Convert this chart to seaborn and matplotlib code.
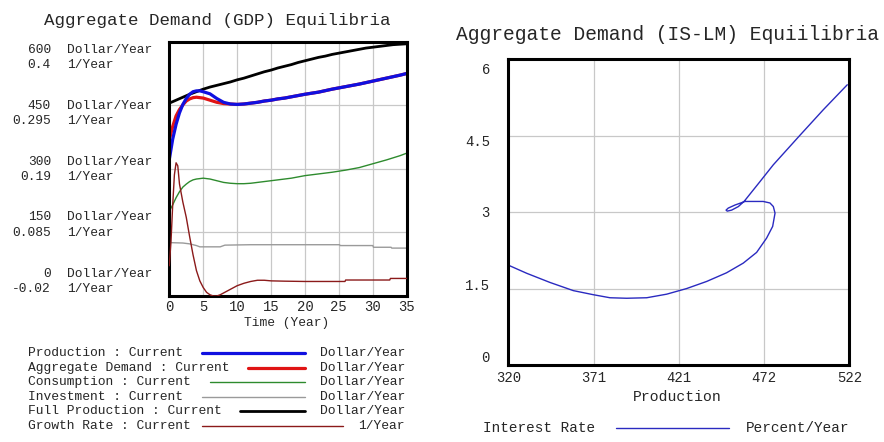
import matplotlib
matplotlib.use("Agg")
import matplotlib.pyplot as plt
from matplotlib.lines import Line2D
import seaborn as sns

# ---- GDP equilibria (time series, Dollar/Year and 1/Year) ----
time_main = [0, 0.5, 1, 1.5, 2, 2.5, 3, 3.5, 4, 4.5, 5, 6, 7, 8, 9, 10,
             11, 12, 13, 14, 15, 16, 17, 18, 19, 20, 22, 24, 26, 28, 30, 32, 34, 35]
production = [322, 370, 405, 432, 452, 466, 476, 482, 484, 484, 482, 477, 466, 457, 453, 452,
              453, 455, 457, 460, 462, 465, 467, 470, 473, 476, 481, 488, 494, 500, 507, 514, 521, 525]
aggregate_demand = [368, 400, 425, 440, 451, 460, 465, 468, 469, 468, 467, 462, 457, 454, 453, 452,
                    453, 455, 457, 460, 462, 465, 467, 470, 473, 476, 481, 488, 494, 500, 507, 514, 521, 525]
consumption = [200, 215, 232, 246, 257, 264, 270, 274, 276, 277, 278, 276, 272, 268, 266, 265,
               265, 266, 268, 270, 272, 274, 276, 278, 281, 284, 288, 292, 297, 303, 312, 321, 331, 337]

time_investment = [0, 2, 3, 4, 4.5, 7.5, 8.2, 12, 17.8, 25.1, 25.2, 30.0, 30.1, 32.7, 32.8, 35]
investment = [126, 125, 123, 119, 116, 116, 120, 121, 121, 121, 119, 119, 115, 115, 113, 113]

time_full = list(range(36))
full_production = [455, 462, 469, 476, 482, 488, 493, 497, 501, 505, 510, 514, 519, 524, 529, 533,
                   538, 542, 546, 551, 555, 559, 563, 566, 570, 573, 576, 579, 582, 585, 587, 589,
                   591, 593, 594, 595]

time_growth = [0, 0.25, 0.5, 0.75, 1.0, 1.25, 1.5, 2, 2.5, 3, 3.5, 4, 4.5, 5, 5.5, 6, 6.5, 7,
               7.5, 8, 9, 10, 11, 12, 13, 14, 15, 17, 20, 25.9, 26, 32.5, 32.6, 35]
growth_rate = [0.03, 0.07, 0.13, 0.18, 0.20, 0.195, 0.165, 0.135, 0.11, 0.078, 0.048, 0.022,
               0.005, -0.006, -0.014, -0.018, -0.02, -0.02, -0.018, -0.015, -0.009, -0.003,
               0.001, 0.004, 0.006, 0.006, 0.005, 0.0045, 0.004, 0.004, 0.0064, 0.0064, 0.009, 0.009]

dollar_ticks = ["600", "450", "300", "150", "0"]
rate_ticks = ["0.4", "0.295", "0.19", "0.085", "-0.02"]
time_ticks = [0, 5, 10, 15, 20, 25, 30, 35]

legend_names = ["Production : Current", "Aggregate Demand : Current", "Consumption : Current",
                "Investment : Current", "Full Production : Current", "Growth Rate : Current"]
legend_units = ["Dollar/Year"] * 5 + ["1/Year"]

# ---- IS-LM trajectory ----
production_islm = [320, 330.9, 344.7, 358.5, 370.3, 380.2, 390.1, 402, 413.8, 425.6, 437.5,
                   449.3, 459.2, 467.1, 473, 476.6, 478, 477, 475, 471, 460.2, 454.3, 450.3,
                   449.0, 449.7, 452.3, 456.3, 459.6, 460.4, 469.1, 477, 492.8, 506.6, 520.8]
interest_rate = [1.96, 1.80, 1.62, 1.46, 1.38, 1.32, 1.31, 1.32, 1.39, 1.50, 1.64,
                 1.81, 2.00, 2.21, 2.49, 2.72, 2.98, 3.11, 3.18, 3.21, 3.21, 3.14, 3.08,
                 3.04, 3.02, 3.04, 3.11, 3.21, 3.24, 3.60, 3.93, 4.51, 5.01, 5.50]
islm_x_ticks = [320, 370.5, 421, 471.5, 522]
islm_x_labels = ["320", "371", "421", "472", "522"]
islm_y_labels = ["6", "4.5", "3", "1.5", "0"]

sns.set_style("white")
plt.rcParams["font.family"] = ["Liberation Mono", "DejaVu Sans"]

W, H = 884, 442
fig = plt.figure(figsize=(W / 100, H / 100), dpi=100)
fig.patch.set_facecolor("white")


def fx(x):
    return x / W


def fy(y):
    return 1 - y / H


def frame(ax):
    for s in ax.spines.values():
        s.set_visible(True)
        s.set_color("black")
        s.set_linewidth(2.2)
    ax.grid(True, color="#c8c8c8", linewidth=0.9)
    ax.tick_params(length=0)


# ---------------- left panel ----------------
axL = fig.add_axes([fx(169.3), fy(296), fx(406.7 - 169.3), (296 - 41.7) / H])
sns.lineplot(x=time_investment, y=investment, ax=axL, color="#9a9a9a", linewidth=1.0,
             estimator=None, sort=False, legend=False)
sns.lineplot(x=time_main, y=consumption, ax=axL, color="#2e8b2e", linewidth=1.0,
             estimator=None, sort=False, legend=False)
sns.lineplot(x=time_full, y=full_production, ax=axL, color="black", linewidth=2.0,
             estimator=None, sort=False, legend=False)
sns.lineplot(x=time_main, y=aggregate_demand, ax=axL, color="#e01414", linewidth=2.3,
             estimator=None, sort=False, legend=False)
sns.lineplot(x=time_main, y=production, ax=axL, color="#1010e0", linewidth=2.3,
             estimator=None, sort=False, legend=False)
axL.set_xlim(0, 35)
axL.set_ylim(0, 600)
axL.set_xticks(time_ticks)
axL.set_xticklabels([str(t) for t in time_ticks], fontsize=10)
axL.set_yticks([0, 150, 300, 450, 600])
axL.set_yticklabels([])
axL.set_xlabel("")
axL.set_ylabel("")
frame(axL)
axL.tick_params(axis="x", pad=3)

axG = axL.twinx()
sns.lineplot(x=time_growth, y=growth_rate, ax=axG, color="#8b1a1a", linewidth=1.0,
             estimator=None, sort=False, legend=False)
axG.set_ylim(-0.02, 0.4)
axG.set_yticks([])
axG.set_ylabel("")
for s in axG.spines.values():
    s.set_visible(False)

fig.text(fx(217), fy(21), "Aggregate Demand (GDP) Equilibria", fontsize=12.6,
         ha="center", va="center")
fig.text(fx(287), fy(323), "Time (Year)", fontsize=9.3, ha="center", va="center")

label_rows = [50, 106, 162, 217, 274]
for yy, d, r in zip(label_rows, dollar_ticks, rate_ticks):
    fig.text(fx(51), fy(yy), d, fontsize=9.3, ha="right", va="center")
    fig.text(fx(67), fy(yy), "Dollar/Year", fontsize=9.3, ha="left", va="center")
    fig.text(fx(51), fy(yy + 15.5), r, fontsize=9.3, ha="right", va="center")
    fig.text(fx(67), fy(yy + 15.5), "1/Year", fontsize=9.3, ha="left", va="center")

legend_rows = [353, 368, 382, 397, 411, 426]
legend_starts = [202, 248, 210, 202, 240, 202]
legend_ends = [305, 305, 305, 305, 305, 343]
legend_colors = ["#1010e0", "#e01414", "#2e8b2e", "#9a9a9a", "black", "#8b1a1a"]
legend_widths = [2.3, 2.3, 1.0, 1.0, 2.0, 1.0]
for yy, name, unit, x0, x1, c, lw in zip(legend_rows, legend_names, legend_units,
                                          legend_starts, legend_ends, legend_colors, legend_widths):
    fig.text(fx(28), fy(yy), name, fontsize=9.4, ha="left", va="center")
    fig.text(fx(405), fy(yy), unit, fontsize=9.4, ha="right", va="center")
    fig.add_artist(Line2D([fx(x0), fx(x1)], [fy(yy), fy(yy)], color=c, linewidth=lw,
                          transform=fig.transFigure))

# ---------------- right panel ----------------
axR = fig.add_axes([fx(508.3), fy(365), fx(849.3 - 508.3), (365 - 59.3) / H])
sns.lineplot(x=production_islm, y=interest_rate, ax=axR, color="#2a2ac0", linewidth=1.0,
             estimator=None, sort=False, legend=False)
axR.set_xlim(320, 522)
axR.set_ylim(0, 6)
axR.set_xticks(islm_x_ticks)
axR.set_xticklabels(islm_x_labels, fontsize=10)
axR.set_yticks([0, 1.5, 3, 4.5, 6])
axR.set_yticklabels([])
axR.set_xlabel("")
axR.set_ylabel("")
frame(axR)
axR.tick_params(axis="x", pad=4)

fig.text(fx(667), fy(35), "Aggregate Demand (IS-LM) Equiilibria", fontsize=14.1,
         ha="center", va="center")
fig.text(fx(677), fy(397), "Production", fontsize=10.6, ha="center", va="center")
for yy, lab in zip([70, 142, 213, 286, 358], islm_y_labels):
    fig.text(fx(490), fy(yy), lab, fontsize=10, ha="right", va="center")

fig.text(fx(483), fy(428), "Interest Rate", fontsize=10.4, ha="left", va="center")
fig.text(fx(746), fy(428), "Percent/Year", fontsize=10.4, ha="left", va="center")
fig.add_artist(Line2D([fx(616), fx(729)], [fy(428), fy(428)], color="#2a2ac0", linewidth=1.0,
                      transform=fig.transFigure))

fig.savefig("out.png", dpi=100, facecolor="white")
